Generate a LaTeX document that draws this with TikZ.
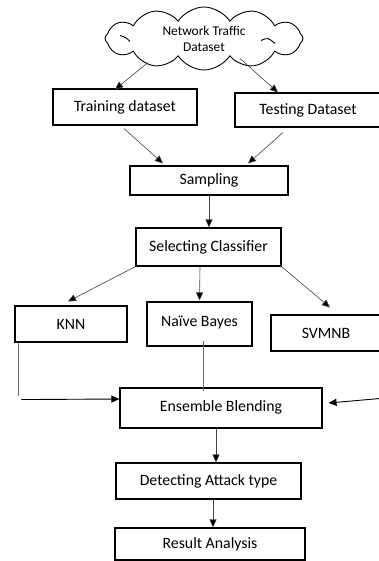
\documentclass[tikz,border=0pt]{standalone}
\usepackage{fontspec}
\setmainfont{Carlito}
\usetikzlibrary{shapes.symbols,arrows.meta,calc}
\tikzset{
  box/.style={draw=black, line width=1.1pt, rectangle, inner sep=0pt, font=\fontsize{15.8}{18}\selectfont},
  flow/.style={draw=black!75, line width=0.6pt, -{Triangle[length=8pt,width=7pt,fill=black]}},
  plain/.style={draw=black!60, line width=0.7pt},
  curl/.style={draw=black, line width=0.9pt},
}
\begin{document}
\begin{tikzpicture}[x=1pt,y=-1pt]
\useasboundingbox (0,0) rectangle (378,561);
% source
\node[draw=black, line width=0.9pt, cloud, cloud puffs=12, cloud puff arc=115, cloud ignores aspect,
      minimum width=198pt, minimum height=63pt, inner sep=0pt, align=center,
      font=\fontsize{13.4}{16}\selectfont] (cloud) at (204,38.5) {Network Traffic\\Dataset};
% inner folds of the cloud
\draw[curl] ($(cloud.center)+(57,2)$) .. controls ($(cloud.center)+(64,-1)$) .. ($(cloud.center)+(71,5)$);
\draw[curl] ($(cloud.center)+(-84,-3)$) .. controls ($(cloud.center)+(-78,-1)$) .. ($(cloud.center)+(-74,3)$);
% datasets
\node[box, minimum width=144pt, minimum height=36pt] (train) at (125,107) {Training dataset};
\node[box, minimum width=146pt, minimum height=34pt] (test) at (308,110) {Testing Dataset};
\node[box, minimum width=158pt, minimum height=29pt] (samp) at (209,180.5) {Sampling};
\node[box, minimum width=145pt, minimum height=38pt] (sel) at (208.5,247) {Selecting Classifier};
% classifiers
\node[box, minimum width=112pt, minimum height=36pt] (knn) at (71,324) {KNN};
\node[box, minimum width=105pt, minimum height=44pt] (nb) at (199.5,324) {\raisebox{6pt}{Naïve Bayes}};
\node[box, minimum width=110pt, minimum height=36pt] (svm) at (326,333) {SVMNB};
% blending and results
\node[box, minimum width=202pt, minimum height=40pt] (ens) at (221,408) {\raisebox{3pt}{Ensemble Blending}};
\node[box, minimum width=185pt, minimum height=36pt] (det) at (208.5,481) {Detecting Attack type};
\node[box, minimum width=190pt, minimum height=32pt] (res) at (210,544) {Result Analysis};
% side inputs
\coordinate (knnend) at ($(knn.south west)+(4,53)$);
\coordinate (leftin) at ($(knn.south west)+(7,57)$);
\coordinate (rightin) at (380,398.5);
% connectors
\draw[flow] ($(cloud.center)+(-56,24)$) -- ($(train.north)+(-10,1)$);
\draw[flow] ($(cloud.center)+(36,20)$) -- ($(test.north)+(-30,0)$);
\draw[flow] ($(train.south)+(-1,3)$) -- ($(samp.north)+(-46,-2)$);
\draw[flow] ($(test.south)+(-25,5)$) -- ($(samp.north)+(39,-2)$);
\draw[flow] (samp.south) -- (samp.south |- sel.north);
\draw[flow] (sel.south west) -- ($(knn.north)+(-3,-4)$);
\draw[flow] ($(sel.south)+(-8.5,0)$) -- ($(nb.north)+(0,-1)$);
\draw[flow] (sel.south east) -- ($(svm.north)+(4,-7)$);
\draw[plain] ($(knn.south west)+(4,0)$) -- (knnend);
\draw[flow, draw=black, line width=0.9pt] (leftin) -- ($(ens.west)+(0,-9)$);
\draw[plain] ($(nb.south)+(3.5,-6)$) -- ($(ens.north)+(-18,4)$);
\draw[flow, draw=black, line width=0.9pt] (rightin) -- ($(ens.east)+(6,-5)$);
\draw[flow] ($(ens.south)+(-5,0)$) -- ($(det.north)+(7.5,0)$);
\draw[flow] ($(det.south)+(4.5,0)$) -- ($(res.north)+(3,0)$);
\end{tikzpicture}
\end{document}
